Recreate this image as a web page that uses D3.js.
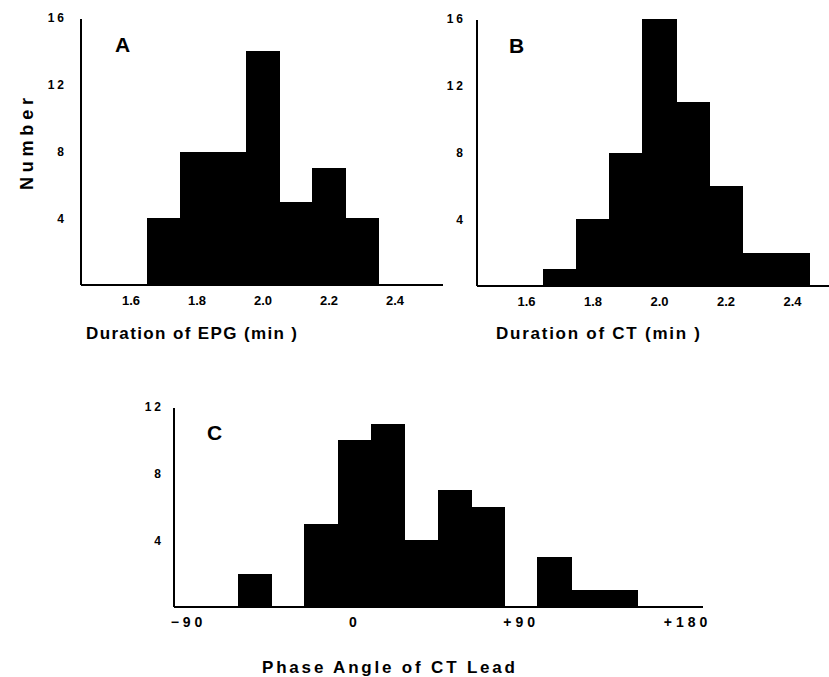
<!DOCTYPE html>
<html>
<head>
<meta charset="utf-8">
<script src="https://cdn.jsdelivr.net/npm/d3@7"></script>
<style>
  body { margin: 0; background: #fff; }
  svg { font-family: "Liberation Sans", Arial, sans-serif; font-weight: bold; }
  .tick text { fill: #000; }
  .bar { shape-rendering: crispEdges; }
</style>
</head>
<body>
<svg id="fig" width="829" height="677"></svg>
<script>
// histogram A: duration of EPG (bin centres, min) and counts
var epgBins = [1.7, 1.8, 1.9, 2.0, 2.1, 2.2, 2.3];
var epgCounts = [4, 8, 8, 14, 5, 7, 4];
// histogram B: duration of CT
var ctBins = [1.7, 1.8, 1.9, 2.0, 2.1, 2.2, 2.3, 2.4];
var ctCounts = [1, 4, 8, 16, 11, 6, 2, 2];
// histogram C: phase angle of CT lead (degrees)
var phaseBins = [-54, -36, -18, 0, 18, 36, 54, 72, 90, 108, 126, 144];
var phaseCounts = [2, 0, 5, 10, 11, 4, 7, 6, 0, 3, 1, 1];

var durTicks = [1.6, 1.8, 2.0, 2.2, 2.4];
var durLabels = ["1.6", "1.8", "2.0", "2.2", "2.4"];
var phaseTicks = [-90, 0, 90, 180];
var phaseLabels = ["\u221290", "0", "+90", "+180"];
var countTicksAB = [4, 8, 12, 16];
var countTicksC = [4, 8, 12];

var svg = d3.select("#fig");

function panel(opt) {
	var g = svg.append("g");
	var x = d3.scaleLinear().domain(opt.xDomain).range(opt.xRange),
		y = d3.scaleLinear().domain(opt.yDomain).range(opt.yRange);

	var data = opt.bins.map(function(b, i) { return {c: b, n: opt.counts[i]}; });

	g.selectAll(".bar")
		.data(data.filter(function(d) { return d.n > 0; }))
		.enter().append("rect")
		.attr("class", "bar")
		.attr("x", function(d) { return Math.round(x(d.c - opt.bw / 2)); })
		.attr("width", function(d) { return Math.round(x(d.c + opt.bw / 2)) - Math.round(x(d.c - opt.bw / 2)) + 1; })
		.attr("y", function(d) { return Math.round(y(d.n)); })
		.attr("height", function(d) { return Math.round(y(0)) - Math.round(y(d.n)); })
		.attr("fill", "#000");

	// axes lines
	g.append("line")
		.attr("x1", opt.axisX).attr("x2", opt.axisX)
		.attr("y1", y(opt.yDomain[1]) + 1).attr("y2", y(0))
		.attr("stroke", "#000").attr("stroke-width", 2);
	g.append("line")
		.attr("x1", opt.axisX).attr("x2", opt.axisEnd)
		.attr("y1", y(0)).attr("y2", y(0))
		.attr("stroke", "#000").attr("stroke-width", 2);

	var xa = g.append("g")
		.attr("transform", "translate(0," + y(0) + ")")
		.call(d3.axisBottom(x).tickValues(opt.xTicks).tickSize(0).tickPadding(opt.xPad)
			.tickFormat(function(d, i) { return opt.xLabels[i]; }));
	xa.select(".domain").remove();
	xa.selectAll("text")
		.style("font-size", opt.xFont + "px")
		.style("font-family", "'Liberation Sans', Arial, sans-serif")
		.style("font-weight", "bold")
		.style("letter-spacing", opt.xSpace + "px");

	var ya = g.append("g")
		.attr("transform", "translate(" + opt.yLabelX + ",0)")
		.call(d3.axisLeft(y).tickValues(opt.yTicks).tickSize(0).tickPadding(0));
	ya.select(".domain").remove();
	ya.selectAll("text")
		.style("font-size", "12px")
		.style("font-family", "'Liberation Sans', Arial, sans-serif")
		.style("font-weight", "bold")
		.style("letter-spacing", "3px");

	g.append("text")
		.attr("x", opt.letterX).attr("y", opt.letterY)
		.style("font-size", "21px")
		.text(opt.letter);

	g.append("text")
		.attr("x", opt.titleX).attr("y", opt.titleY)
		.attr("textLength", opt.titleLen)
		.attr("lengthAdjust", "spacing")
		.style("font-size", "17px")
		.text(opt.title);
	return g;
}

panel({
	bins: epgBins, counts: epgCounts, bw: 0.1,
	xDomain: [1.6, 2.4], xRange: [130.5, 394.5],
	yDomain: [0, 16], yRange: [285, 18],
	axisX: 81, axisEnd: 443, yLabelX: 67, yTicks: countTicksAB,
	xTicks: durTicks, xLabels: durLabels, xPad: 11, xFont: 13, xSpace: 0,
	letter: "A", letterX: 115, letterY: 52,
	title: "Duration of EPG (min )", titleX: 86, titleY: 339, titleLen: 211
});

panel({
	bins: ctBins, counts: ctCounts, bw: 0.1,
	xDomain: [1.6, 2.4], xRange: [526, 792],
	yDomain: [0, 16], yRange: [286, 19],
	axisX: 477, axisEnd: 829, yLabelX: 466, yTicks: countTicksAB,
	xTicks: durTicks, xLabels: durLabels, xPad: 11, xFont: 13, xSpace: 0,
	letter: "B", letterX: 509, letterY: 53,
	title: "Duration of CT (min )", titleX: 496, titleY: 339, titleLen: 204
});

panel({
	bins: phaseBins, counts: phaseCounts, bw: 18,
	xDomain: [-90, 180], xRange: [188, 687],
	yDomain: [0, 12], yRange: [607, 407],
	axisX: 174, axisEnd: 703, yLabelX: 164, yTicks: countTicksC,
	xTicks: phaseTicks, xLabels: phaseLabels, xPad: 10, xFont: 14, xSpace: 4,
	letter: "C", letterX: 207, letterY: 440,
	title: "Phase Angle of CT Lead", titleX: 262, titleY: 673, titleLen: 253
});

svg.append("text")
	.attr("transform", "translate(33,144) rotate(-90)")
	.attr("text-anchor", "middle")
	.attr("textLength", 92)
	.attr("lengthAdjust", "spacing")
	.style("font-size", "18px")
	.text("Number");
</script>
</body>
</html>
